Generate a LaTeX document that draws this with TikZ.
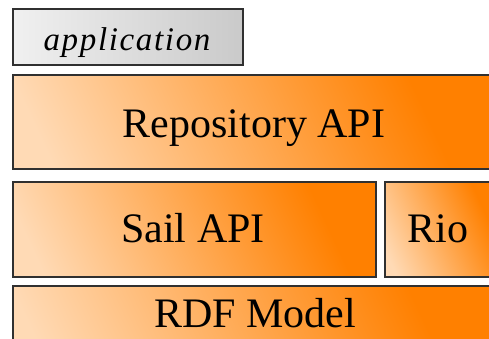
\documentclass[tikz,border=0pt]{standalone}
\usepackage{fontspec}
\setmainfont{Liberation Serif}
\newfontfamily\appfont[LetterSpace=5]{Liberation Serif}
\definecolor{peach}{HTML}{FFDAB5}
\definecolor{orng}{HTML}{FF8000}
\definecolor{gLight}{HTML}{F0F0F0}
\definecolor{gDark}{HTML}{CACACA}
\definecolor{edge}{HTML}{303030}
\pgfdeclarehorizontalshading{orangegrad}{100bp}{color(0bp)=(peach); color(22bp)=(peach); color(72bp)=(orng); color(100bp)=(orng)}
\pgfdeclarehorizontalshading{graygrad}{100bp}{color(0bp)=(gLight); color(25bp)=(gLight); color(75bp)=(gDark); color(100bp)=(gDark)}
\begin{document}
\begin{tikzpicture}[x=1pt,y=-1pt,
  layer/.style={draw=edge, line width=1.6pt, shading=orangegrad, shading angle=25},
  appbox/.style={draw=edge, line width=1.6pt, shading=graygrad},
  lbl/.style={font=\fontsize{42}{46}\selectfont, anchor=base, inner sep=0pt},
  applbl/.style={font=\appfont\itshape\fontsize{33}{36}\selectfont, anchor=base, inner sep=0pt}]
\useasboundingbox (0,0) rectangle (489,338);
\clip (0,0) rectangle (489,338);
\path[appbox] (13,9) rectangle (243,65);
\node[applbl] (app) at (127,50) {application};
\path[layer] (13,75) rectangle (497,169);
\node[lbl] (repo) at (254,137) {Repository API};
\path[layer] (13,182) rectangle (376,277);
\node[lbl] (sail) at (193,242) {Sail API};
\path[layer] (385,182) rectangle (497,277);
\node[lbl] (rio) at (438,242) {Rio};
\path[layer] (13,286) rectangle (497,380);
\node[lbl] (rdf) at (255,327) {RDF Model};
\end{tikzpicture}
\end{document}
